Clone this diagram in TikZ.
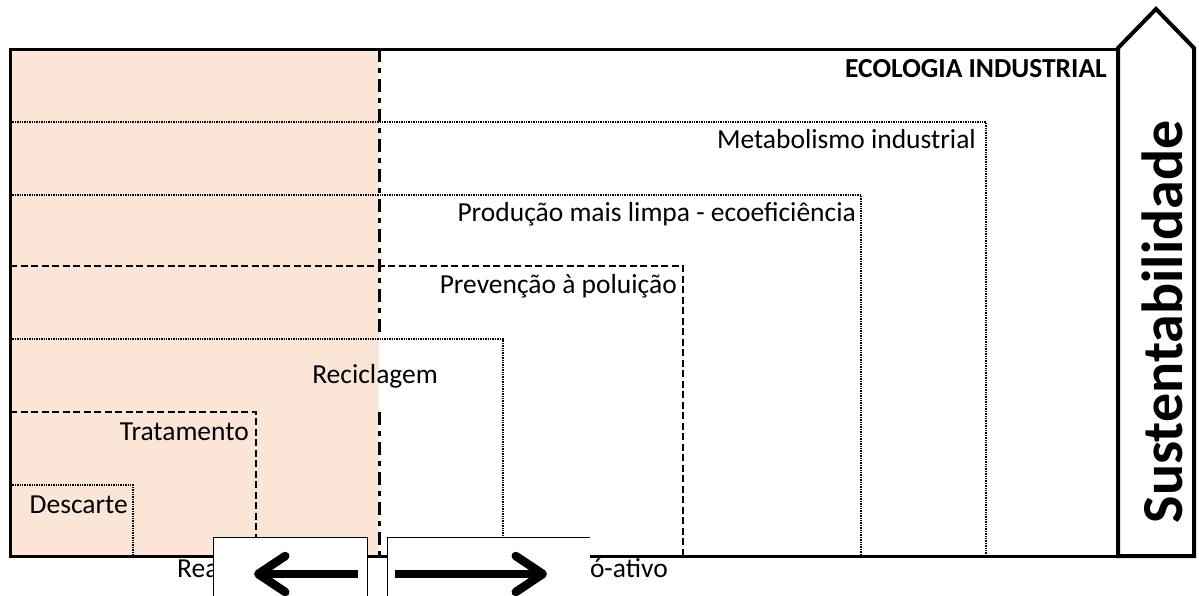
\documentclass[tikz,border=0pt]{standalone}
\usepackage{fontspec}
\setmainfont{Carlito}
\usetikzlibrary{arrows.meta}

\definecolor{pessego}{RGB}{251,229,214}

\begin{document}
\begin{tikzpicture}[x=1pt,y=1pt,yscale=-1,
  pontilhado/.style={line width=2.4pt,dash pattern=on 1.4pt off 1pt},
  tracejado/.style={line width=2.6pt,dash pattern=on 7pt off 3.5pt},
  tracoponto/.style={line width=3pt,dash pattern=on 13pt off 6pt on 5pt off 6pt},
  rotulo/.style={font=\fontsize{27.5}{32}\selectfont,anchor=base east,inner sep=0pt},
  seta/.style={line width=8.5pt,-{Straight Barb[length=27pt,width=36pt,line cap=round,line join=round]}},
  caixa/.style={draw,line width=1pt,fill=white,inner sep=0pt}]

\useasboundingbox (0,0) rectangle (1199,595);

%Shape: Rectangle
\fill [pessego] (10,49) rectangle (379,556);

%Straight Lines
\draw [pontilhado] (10,122) -| (986,556);
%Straight Lines
\draw [pontilhado] (10,195) -| (861,556);
%Straight Lines
\draw [tracejado] (10,266) -| (683,556);
%Straight Lines
\draw [pontilhado] (10,339) -| (503,556);
%Straight Lines
\draw [tracejado] (10,412) -| (256,556);
%Straight Lines
\draw [pontilhado] (10,485) -| (133,556);

%Straight Lines
\draw [tracoponto] (379,49) -- (379,338);
%Straight Lines
\draw [tracoponto] (379,412) -- (379,556);

%Shape: Rectangle
\draw [line width=3pt] (10,49) rectangle (1118,556);

%Shape: Up Arrow
\draw [line width=4pt,line join=miter,fill=white] (1118,556) -- (1118,48) -- (1156,9) -- (1194,48) -- (1194,556) -- cycle;

% Text Node
\draw (1107,77) node [rotulo,font=\fontsize{27.5}{32}\selectfont\bfseries] (ecologia) {ECOLOGIA INDUSTRIAL};
% Text Node
\draw (976,148) node [rotulo] (metabolismo) {Metabolismo industrial};
% Text Node
\draw (856,221) node [rotulo] (producao) {Produção mais limpa - ecoeficiência};
% Text Node
\draw (677,293) node [rotulo] (prevencao) {Prevenção à poluição};
% Text Node
\draw (438,383) node [rotulo] (reciclagem) {Reciclagem};
% Text Node
\draw (249,440) node [rotulo] (tratamento) {Tratamento};
% Text Node
\draw (128,513) node [rotulo] (descarte) {Descarte};
% Text Node
\draw (1162,322) node [rotate=90,font=\fontsize{58}{66}\selectfont\bfseries] (sustentab) {Sustentabilidade};

% Text Node
\draw (177,577) node [rotulo,anchor=base west] (reativo) {Reativo};
% Text Node
\draw (668,577) node [rotulo] (proativo) {Pró-ativo};

%Shape: Rectangle
\draw (213,537) node [caixa,anchor=north west,minimum width=154pt,minimum height=70pt] (caixaesq) {};
%Shape: Rectangle
\fill [white] (387,537) rectangle (590,600);
\draw [line width=1pt] (387,600) |- (590,537);
\coordinate (caixadir) at (387,537);

%Straight Lines
\coordinate (esqA) at (358,574);
\coordinate (esqB) at (254,574);
\draw [seta] (esqA) -- (esqB);
%Straight Lines
\coordinate (dirA) at (395,574);
\coordinate (dirB) at (547,574);
\draw [seta] (dirA) -- (dirB);

\end{tikzpicture}
\end{document}
